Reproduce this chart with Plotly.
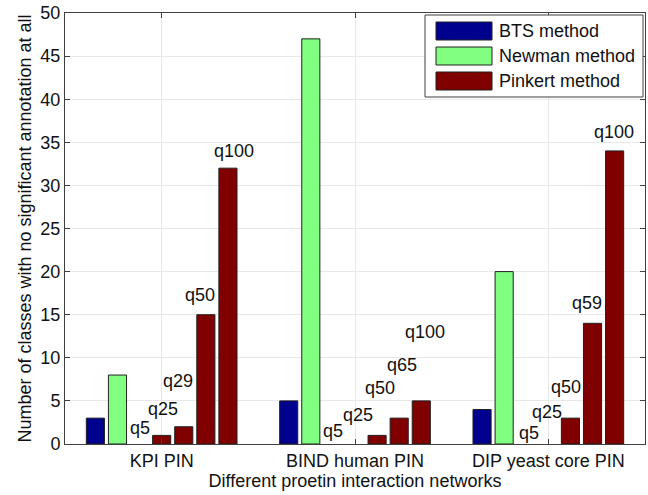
import plotly.graph_objects as go

# Networks compared
networks = ["KPI PIN", "BIND human PIN", "DIP yeast core PIN"]

# Classes with no significant annotation, per method
bts = [3, 5, 4]
newman = [8, 47, 20]

# Pinkert method: five quantile settings per network (slot order)
pinkert = [
    [0, 1, 2, 15, 32],   # KPI PIN
    [0, 0, 1, 3, 5],     # BIND human PIN
    [0, 0, 3, 14, 34],   # DIP yeast core PIN
]
pinkert_labels = [
    ["q5", "q25", "q29", "q50", "q100"],
    ["q5", "q25", "q50", "q65", "q100"],
    ["q5", "q25", "q50", "q59", "q100"],
]

# Label placement: y level and small x nudge (pixels) for each quantile label
label_y = [
    [1.9, 4.1, 7.3, 17.3, 34.0],
    [1.5, 3.4, 6.5, 9.2, 13.0],
    [1.3, 3.7, 6.6, 16.3, 36.2],
]
label_dx = [
    [0, 1, -6, -6, 6],
    [0, 3, 3, 3, 4],
    [3, -1, -4, -6, -1],
]

C_BTS = "#00008f"
C_NEW = "#80ff80"
C_PIN = "#800000"
FONT = "Liberation Sans, Arial, sans-serif"
FS = 18
TXT = "#111111"

xs = [1, 2, 3]


def edge(vals):
    # no outline on empty bars so nothing shows on the baseline
    return dict(color="#202020", width=[1 if v > 0 else 0 for v in vals])


fig = go.Figure()
fig.add_bar(x=xs, y=bts, marker=dict(color=C_BTS, line=edge(bts)), showlegend=False)
fig.add_bar(x=xs, y=newman, marker=dict(color=C_NEW, line=edge(newman)), showlegend=False)
for k in range(5):
    vals = [pinkert[g][k] for g in range(3)]
    fig.add_bar(x=xs, y=vals, marker=dict(color=C_PIN, line=edge(vals)), showlegend=False)

# Quantile labels above the Pinkert bars
n_slots = 7
slot_w = 0.8 / n_slots
px_to_x = 3.0 / 580
for g in range(3):
    for k in range(5):
        slot = k + 2
        x = xs[g] + (slot - 3) * slot_w + label_dx[g][k] * px_to_x
        fig.add_annotation(x=x, y=label_y[g][k], text=pinkert_labels[g][k],
                           showarrow=False, xref="x", yref="y",
                           font=dict(family=FONT, size=FS, color=TXT))

# Legend box with wide swatches
legend_items = [("BTS method", C_BTS), ("Newman method", C_NEW), ("Pinkert method", C_PIN)]
W, H = 580, 431


def px(xp):
    return (xp - 65) / W


def py(yp):
    return (444 - yp) / H


fig.add_shape(type="rect", xref="paper", yref="paper",
              x0=px(425), x1=px(643), y0=py(97), y1=py(15),
              line=dict(color="#404040", width=1), fillcolor="white", layer="above")
for i, (name, col) in enumerate(legend_items):
    cy = 31 + 25 * i
    fig.add_shape(type="rect", xref="paper", yref="paper",
                  x0=px(436), x1=px(492), y0=py(cy + 9), y1=py(cy - 9),
                  line=dict(color="#202020", width=1), fillcolor=col, layer="above")
    fig.add_annotation(xref="paper", yref="paper", x=px(497), y=py(cy),
                       text=name, showarrow=False, xanchor="left", yanchor="middle",
                       font=dict(family=FONT, size=FS, color=TXT))

axis_common = dict(showline=True, linecolor="#404040", linewidth=1, mirror="ticks",
                   ticks="inside", ticklen=5, tickcolor="#404040",
                   showgrid=True, gridcolor="#e8e8e8", gridwidth=1, zeroline=False,
                   tickfont=dict(family=FONT, size=FS, color=TXT))

fig.update_layout(
    width=648, height=495,
    margin=dict(l=65, r=3, t=13, b=51),
    paper_bgcolor="white", plot_bgcolor="white",
    barmode="group", bargap=0.2, bargroupgap=0.18,
    xaxis=dict(range=[0.5, 3.5], tickvals=xs, ticktext=networks,
               title=dict(text="Different proetin interaction networks", standoff=0,
                          font=dict(family=FONT, size=FS, color=TXT)),
               **axis_common),
    yaxis=dict(range=[0, 50], dtick=5,
               title=dict(text="Number of classes with no significant annotation at all",
                          standoff=4, font=dict(family=FONT, size=FS, color=TXT)),
               **axis_common),
)

fig.write_html("out.html")
